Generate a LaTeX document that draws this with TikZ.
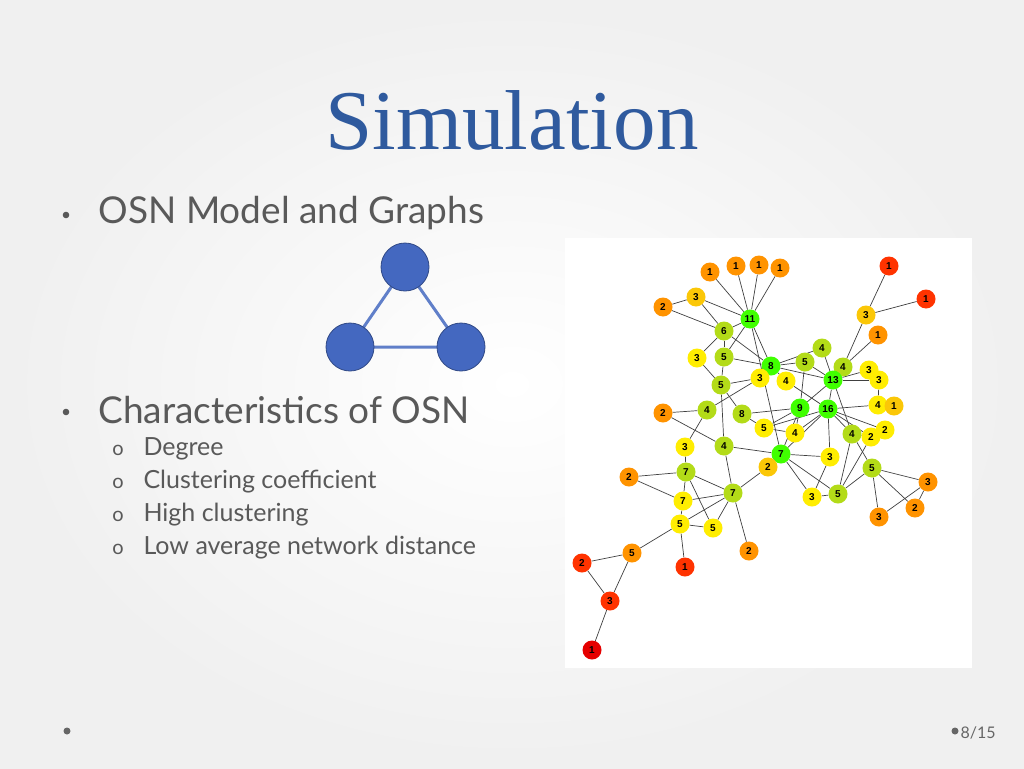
\documentclass[tikz,border=0pt]{standalone}
\usepackage{fontspec}
\setmainfont{Liberation Serif}
\newfontfamily\bodyfont{Lato}
\newfontfamily\nfont{Liberation Sans}
\pgfdeclarelayer{back}
\pgfdeclarelayer{bg}
\pgfsetlayers{back,bg,main}
\definecolor{titleblue}{HTML}{2F5A9E}
\definecolor{triblue}{HTML}{4468C0}
\begin{document}
\begin{tikzpicture}[x=1pt,y=-1pt,
 g/.style={circle,minimum size=19pt,inner sep=0pt,font=\nfont\bfseries\fontsize{10}{10}\selectfont},
 O/.style={g,fill=orange!85!yellow},
 R/.style={g,fill=red!60!orange},
 RR/.style={g,fill=red!90!black},
 OY/.style={g,fill=yellow!60!orange},
 Y/.style={g,fill=yellow!95!orange},
 YG/.style={g,fill=yellow!70!green},
 G/.style={g,fill=green!75!yellow},
 tn/.style={circle,minimum size=48pt,fill=triblue,draw=triblue!70!black,line width=0.8pt},
 ed/.style={draw=gray!50!black,line width=0.7pt},
 txt/.style={anchor=west,text=black!65,font=\bodyfont}]
\useasboundingbox (0,0) rectangle (1024,768);
\begin{pgfonlayer}{back}
\shade[inner color=white,outer color=gray!12] (0,0) rectangle (1024,768);
\fill[white] (565,238) rectangle (972,668);
\end{pgfonlayer}
\node[text=titleblue,font=\fontsize{85}{85}\selectfont] (title) at (512,120) {Simulation};
\node[txt,font=\bodyfont\fontsize{37}{37}\selectfont] (b1) at (95,213) {OSN Model and Graphs};
\node[txt,font=\bodyfont\fontsize{37}{37}\selectfont] (b2) at (95,410) {Characteristics of OSN};
\node[txt,font=\bodyfont\fontsize{25}{25}\selectfont] (d1) at (140,449) {Degree};
\node[txt,font=\bodyfont\fontsize{25}{25}\selectfont] (d2) at (140,482) {Clustering coefficient};
\node[txt,font=\bodyfont\fontsize{25}{25}\selectfont] (d3) at (140,515) {High clustering};
\node[txt,font=\bodyfont\fontsize{25}{25}\selectfont] (d4) at (140,548) {Low average network distance};
\foreach \yy in {213,410}{\fill[black!65] (66,\yy+2) circle (3.3);}
\foreach \yy in {449,482,515,548}{\node[text=black!65,font=\bodyfont\fontsize{20}{20}\selectfont] at (118,\yy+1) {o};}
% triangle
\coordinate (t1) at (405,267); \coordinate (t2) at (350,347); \coordinate (t3) at (461,347);
\draw[triblue!85!white,line width=3pt] (t1)--(t2)--(t3)--cycle;
\node[tn] at (t1) {}; \node[tn] at (t2) {}; \node[tn] at (t3) {};
% graph nodes
\path
 (710,272) node[O] (a1) {1} (736,266) node[O] (a2) {1} (759,265) node[O] (a3) {1} (780,268) node[O] (a4) {1}
 (663,307) node[O] (b) {2} (696,297) node[OY] (c) {3} (750,319) node[G] (n11) {11} (724,331) node[YG] (n6) {6}
 (697,358) node[Y] (y3a) {3} (724,357) node[YG] (y5a) {5} (721,385) node[YG] (y5b) {5} (771,366) node[G] (n8) {8}
 (760,378) node[Y] (y3b) {3} (707,410) node[YG] (y4a) {4} (663,413) node[O] (o2a) {2} (742,414) node[YG] (n8b) {8}
 (764,428) node[Y] (y5c) {5} (685,447) node[Y] (y3c) {3} (724,446) node[YG] (y4b) {4} (781,454) node[G] (n7a) {7}
 (768,467) node[OY] (o2b) {2} (686,472) node[YG] (n7b) {7} (629,477) node[O] (o2c) {2} (683,501) node[Y] (n7c) {7}
 (733,493) node[YG] (n7d) {7} (680,524) node[Y] (y5d) {5} (713,528) node[Y] (y5e) {5} (749,551) node[O] (o2d) {2}
 (685,567) node[R] (o1) {1} (632,553) node[O] (o5) {5} (582,563) node[R] (r2) {2} (610,601) node[R] (r3) {3}
 (592,650) node[RR] (r1) {1}
 (889,266) node[R] (q1) {1} (926,299) node[R] (q2) {1} (866,315) node[OY] (y3r) {3} (878,335) node[O] (q3) {1}
 (822,348) node[YG] (y4c) {4} (805,362) node[YG] (y5f) {5} (843,367) node[YG] (y4d) {4} (833,380) node[G] (n13) {13}
 (869,370) node[Y] (y3d) {3} (879,380) node[Y] (y3e) {3} (786,381) node[Y] (y4e) {4} (800,408) node[G] (n9) {9}
 (828,409) node[G] (n16) {16} (878,405) node[Y] (y4f) {4} (894,406) node[OY] (q4) {1} (795,433) node[Y] (y4g) {4}
 (852,434) node[YG] (y4h) {4} (871,437) node[Y] (y2a) {2} (885,430) node[Y] (y2b) {2} (830,457) node[Y] (y3f) {3}
 (872,468) node[YG] (y5g) {5} (812,497) node[Y] (y3g) {3} (838,494) node[YG] (y5h) {5} (928,482) node[O] (o3a) {3}
 (915,508) node[O] (o2e) {2} (879,517) node[O] (o3b) {3};
\begin{pgfonlayer}{bg}
\foreach \u/\v in {a1/n11,a2/n11,a3/n11,a4/n11,c/n11,c/n6,b/c,b/n6,n11/n6,n11/y5a,n11/n8,n11/n7a,n6/y3a,n6/y5a,n6/n8,y5a/y5b,y5a/n8,y3a/y5b,y5b/y3b,y5b/n8b,y5b/y4b,y4a/y3b,y4a/o2a,y4a/y3c,o2a/y4b,n8b/y5c,n8b/n9,y3c/n7b,y4b/n7a,n8/y5f,n8/y4c,n8/n13,n8/y4e,y3b/n8,y5f/n13,y5f/n9,y4c/n13,y4d/n13,y4d/y3r,y4d/q3,y3r/q1,y3r/q2,n13/y3d,n13/y3e,n13/n16,n13/n9,n16/y4f,y4f/q4,n16/y4g,n16/y4h,n16/y3f,n16/y2a,n16/n7a,n9/y4g,n9/n7a,y4h/y2a,y4h/y5g,y3d/y3e,y3e/y4f,y4h/y5h,y3f/y3g,y3f/n7a,n7a/y5h,n7a/y3g,n7a/o2b,o2b/n7d,y5h/y3g,y5h/y5g,y2a/y5h,y5g/o3a,y5g/o3b,y5g/o2e,o3a/o2e,o3a/o3b,n7b/o2c,n7b/n7c,n7b/n7d,n7b/y5e,n7c/o2c,n7c/n7d,n7c/y5d,y5d/n7d,y5d/y5e,y5e/n7d,n7d/o2d,y4b/n7d,y5d/o1,y5d/o5,o5/r2,o5/r3,r2/r3,r3/r1,y5c/n9,y5c/n16,y5c/y4g,y4e/n16,n13/y4h,y2b/n16}
 {\path[ed] (\u) -- (\v);}
\end{pgfonlayer}
% footer
\fill[black!60] (67,731) circle (3.5);
\fill[black!60] (955,731) circle (3.5);
\node[anchor=west,text=black!60,font=\bodyfont\fontsize{16}{16}\selectfont] (pg) at (957,733) {8/15};
\end{tikzpicture}
\end{document}
